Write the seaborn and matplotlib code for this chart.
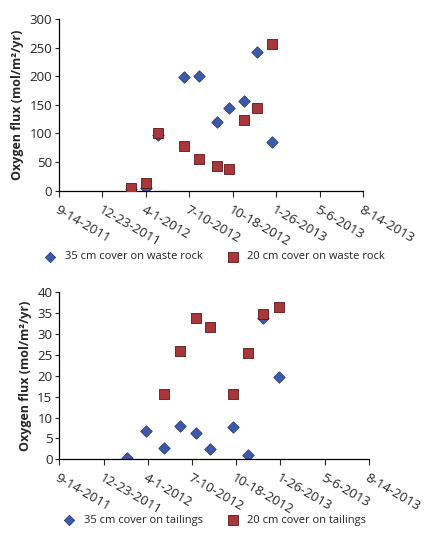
import matplotlib
matplotlib.use("Agg")
import matplotlib.pyplot as plt
import seaborn as sns
import pandas as pd

sns.set_style("white")
plt.rcParams['font.family'] = ['Open Sans', 'DejaVu Sans']

# ---- data ----
rock_dates = ["2012-02-26", "2012-04-01", "2012-04-29", "2012-06-27", "2012-08-01",
              "2012-09-11", "2012-10-10", "2012-11-13", "2012-12-14", "2013-01-16"]
rock_35 = [3, 5, 97, 199, 200, 120, 144, 156, 243, 85]
rock_20 = [4, 14, 101, 78, 56, 43, 37, 124, 145, 256]

tail_dates_35 = ["2012-02-14", "2012-03-28", "2012-05-07", "2012-06-13", "2012-07-20",
                 "2012-08-20", "2012-10-11", "2012-11-13", "2012-12-18", "2013-01-23"]
tail_35 = [0.2, 6.9, 2.6, 8.1, 6.4, 2.4, 7.7, 1.1, 33.8, 19.8]
tail_dates_20 = ["2012-05-07", "2012-06-13", "2012-07-20", "2012-08-20", "2012-10-11",
                 "2012-11-13", "2012-12-18", "2013-01-23"]
tail_20 = [15.7, 25.9, 33.9, 31.8, 15.7, 25.5, 34.8, 36.6]

tick_dates = ["2011-09-14", "2011-12-23", "2012-04-01", "2012-07-10",
              "2012-10-18", "2013-01-26", "2013-05-06", "2013-08-14"]
tick_labels = ["9-14-2011", "12-23-2011", "4-1-2012", "7-10-2012",
               "10-18-2012", "1-26-2013", "5-6-2013", "8-14-2013"]

ylabel = "Oxygen flux (mol/m²/yr)"

blue, blue_edge = "#3D5AA8", "#2A3F80"
red, red_edge = "#A8363A", "#5A1818"

fig = plt.figure(figsize=(4.24, 5.40), dpi=100)
ax1 = fig.add_axes([0.139, 0.647, 0.717, 0.318])
ax2 = fig.add_axes([0.140, 0.1494, 0.730, 0.309])


def panel(ax, d35, v35, d20, v20, lab35, lab20, ylim, yticks, legend_y):
    sns.scatterplot(x=pd.to_datetime(d35), y=v35, ax=ax, marker="D", s=34,
                    color=blue, edgecolor=blue_edge, linewidth=0.6, label=lab35, zorder=2)
    sns.scatterplot(x=pd.to_datetime(d20), y=v20, ax=ax, marker="s", s=62,
                    color=red, edgecolor=red_edge, linewidth=0.6, label=lab20, zorder=3)
    ax.set_xlim(pd.Timestamp(tick_dates[0]), pd.Timestamp(tick_dates[-1]))
    ax.set_ylim(*ylim)
    ax.set_yticks(yticks)
    ax.set_xticks(pd.to_datetime(tick_dates))
    ax.set_xticklabels(tick_labels, rotation=-30, ha="left", va="top",
                       rotation_mode="anchor", fontsize=9.5)
    ax.tick_params(axis="y", labelsize=9.5, direction="out", length=3, width=0.8,
                   left=True, pad=2)
    ax.tick_params(axis="x", direction="out", length=4, width=0.8, bottom=True, pad=5)
    for side in ["top", "right"]:
        ax.spines[side].set_visible(False)
    for side in ["left", "bottom"]:
        ax.spines[side].set_color("black")
        ax.spines[side].set_linewidth(0.9)
    ax.set_xlabel("")
    ax.set_ylabel(ylabel, fontsize=9, fontweight="bold", labelpad=4)
    h, l = ax.get_legend_handles_labels()
    ax.get_legend().remove()
    fig.legend(h, l, loc="center", bbox_to_anchor=(0.5, legend_y), ncol=2, frameon=False,
               fontsize=8, handletextpad=0.3, columnspacing=1.7, markerscale=0.9)


panel(ax1, rock_dates, rock_35, rock_dates, rock_20,
      "35 cm cover on waste rock", "20 cm cover on waste rock",
      (0, 300), [0, 50, 100, 150, 200, 250, 300], 1 - 257 / 540)
panel(ax2, tail_dates_35, tail_35, tail_dates_20, tail_20,
      "35 cm cover on tailings", "20 cm cover on tailings",
      (0, 40), [0, 5, 10, 15, 20, 25, 30, 35, 40], 1 - 520 / 540)

fig.savefig("out.png", dpi=100)
